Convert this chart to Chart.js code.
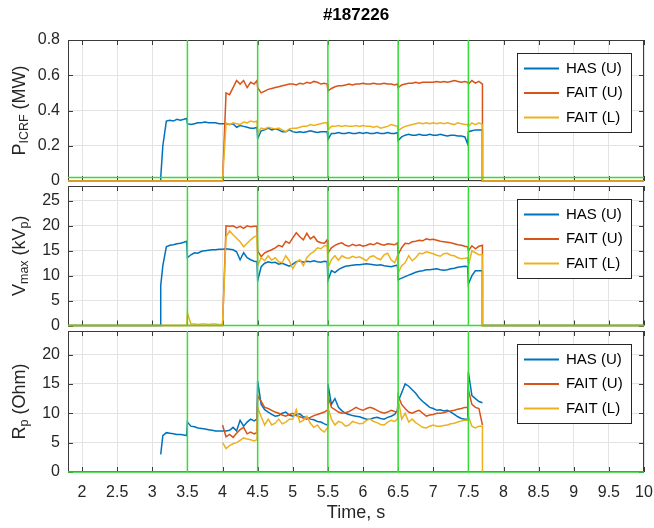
<!DOCTYPE html>
<html>
<head>
<meta charset="utf-8">
<script src="https://cdn.jsdelivr.net/npm/chart.js@4.4.1/dist/chart.umd.min.js"></script>
<style>
    body { margin: 0; background: #ffffff; }
    #wrap { position: relative; width: 654px; height: 528px; }
    #wrap canvas { position: absolute; left: 0; top: 0; }
</style>
</head>
<body>
<div id="wrap">
    <canvas id="powerChart" width="654" height="528"></canvas>
    <canvas id="voltageChart" width="654" height="528"></canvas>
    <canvas id="resistChart" width="654" height="528"></canvas>
</div>
<script>
const shotTitle = '#187226';
const seriesNames = ['HAS (U)', 'FAIT (U)', 'FAIT (L)'];
const markerTimes = [3.5, 4.5, 5.5, 6.5, 7.5];
const xTicks = [2, 2.5, 3, 3.5, 4, 4.5, 5, 5.5, 6, 6.5, 7, 7.5, 8, 8.5, 9, 9.5, 10];
const powerTicks = [0, 0.2, 0.4, 0.6, 0.8];
const voltageTicks = [0, 5, 10, 15, 20, 25];
const resistTicks = [0, 5, 10, 15, 20];

// time base shared by all traces (s)
const time = [
    1.8, 3.12, 3.12, 3.15, 3.2, 3.25, 3.3, 3.35, 3.4, 3.45, 3.49,
    3.5, 3.55, 3.6, 3.65, 3.7, 3.75, 3.8, 3.85, 3.9, 3.95, 4.0, 4.0,
    4.05, 4.1, 4.15, 4.2, 4.25, 4.3, 4.35, 4.4, 4.45, 4.49,
    4.5, 4.55, 4.6, 4.65, 4.7, 4.75, 4.8, 4.85, 4.9, 4.95,
    5.0, 5.05, 5.1, 5.15, 5.2, 5.25, 5.3, 5.35, 5.4, 5.45, 5.49,
    5.5, 5.55, 5.6, 5.65, 5.7, 5.75, 5.8, 5.85, 5.9, 5.95,
    6.0, 6.05, 6.1, 6.15, 6.2, 6.25, 6.3, 6.35, 6.4, 6.45, 6.49,
    6.5, 6.55, 6.6, 6.65, 6.7, 6.75, 6.8, 6.85, 6.9, 6.95,
    7.0, 7.05, 7.1, 7.15, 7.2, 7.25, 7.3, 7.35, 7.4, 7.45, 7.49,
    7.5, 7.55, 7.6, 7.65, 7.7, 7.7, 10
];

// P_ICRF (MW)
const pHas = [
    0, 0, 0.02, 0.2, 0.34, 0.345, 0.34, 0.35, 0.345, 0.35, 0.355,
    0.325, 0.32, 0.325, 0.33, 0.33, 0.335, 0.33, 0.33, 0.33, 0.325, 0.325, 0.325,
    0.325, 0.32, 0.325, 0.305, 0.315, 0.31, 0.305, 0.3, 0.3, 0.305,
    0.24, 0.285, 0.29, 0.3, 0.29, 0.295, 0.29, 0.28, 0.28, 0.29,
    0.28, 0.275, 0.28, 0.275, 0.28, 0.285, 0.28, 0.275, 0.28, 0.28, 0.28,
    0.235, 0.27, 0.27, 0.275, 0.27, 0.27, 0.275, 0.27, 0.27, 0.275,
    0.27, 0.275, 0.27, 0.27, 0.275, 0.27, 0.27, 0.275, 0.27, 0.27, 0.275,
    0.23, 0.25, 0.26, 0.265, 0.26, 0.26, 0.265, 0.26, 0.26, 0.265,
    0.26, 0.26, 0.265, 0.26, 0.255, 0.26, 0.26, 0.255, 0.255, 0.25, 0.21,
    0.28, 0.285, 0.29, 0.29, 0.29, 0, 0
];
const pFaitU = [
    0, 0, 0, 0, 0, 0, 0, 0, 0, 0, 0,
    0, 0, 0, 0, 0, 0, 0, 0, 0, 0, 0, 0,
    0.5, 0.49, 0.53, 0.57, 0.55, 0.57, 0.53, 0.56, 0.55, 0.57,
    0.53, 0.5, 0.51, 0.52, 0.525, 0.53, 0.535, 0.54, 0.545, 0.55,
    0.55, 0.545, 0.555, 0.55, 0.56, 0.555, 0.565, 0.56, 0.55, 0.555, 0.55,
    0.51, 0.525, 0.535, 0.54, 0.54, 0.545, 0.55, 0.545, 0.55, 0.55,
    0.555, 0.55, 0.55, 0.555, 0.55, 0.55, 0.555, 0.55, 0.55, 0.545, 0.55,
    0.53, 0.545, 0.55, 0.555, 0.555, 0.56, 0.555, 0.56, 0.56, 0.56,
    0.56, 0.565, 0.56, 0.565, 0.56, 0.565, 0.57, 0.565, 0.56, 0.565, 0.56,
    0.55, 0.57, 0.555, 0.565, 0.55, 0, 0
];
const pFaitL = [
    0, 0, 0, 0, 0, 0, 0, 0, 0, 0, 0,
    0, 0, 0, 0, 0, 0, 0, 0, 0, 0, 0, 0,
    0.33, 0.32, 0.33, 0.325, 0.32, 0.335, 0.33, 0.34, 0.335, 0.34,
    0.27, 0.3, 0.295, 0.305, 0.3, 0.295, 0.3, 0.29, 0.28, 0.295,
    0.3, 0.3, 0.305, 0.31, 0.31, 0.32, 0.315, 0.32, 0.325, 0.33, 0.33,
    0.29, 0.31, 0.31, 0.315, 0.31, 0.315, 0.31, 0.31, 0.315, 0.31,
    0.315, 0.31, 0.31, 0.305, 0.31, 0.3, 0.305, 0.31, 0.32, 0.315, 0.31,
    0.285, 0.3, 0.31, 0.315, 0.32, 0.325, 0.33, 0.325, 0.33, 0.325,
    0.33, 0.325, 0.33, 0.325, 0.33, 0.325, 0.32, 0.33, 0.325, 0.32, 0.32,
    0.31, 0.33, 0.32, 0.33, 0.32, 0, 0
];

// V_max (kVp)
const vHas = [
    0, 0, 8, 12, 15.8, 16.1, 16.2, 16.4, 16.5, 16.7, 16.9,
    13.6, 14.2, 14.6, 14.5, 14.9, 15, 15.1, 15.2, 15.2, 15.3, 15.3, 15.3,
    15.4, 15.3, 15.2, 14.8, 13.2, 14.6, 13.6, 13.2, 12.9, 12.8,
    9, 11.8, 12.5, 12.8, 12.6, 12.7, 12.3, 12.5, 12.2, 11.9,
    12.3, 12.8, 13, 12.7, 12.9, 12.8, 13, 12.8, 12.7, 12.9, 12.8,
    9, 11, 10.6, 11.2, 11.6, 11.9, 12, 12.1, 12.2, 12.2,
    12.3, 12.4, 12.3, 12.2, 12.1, 12.2, 12, 11.9, 11.8, 12, 12.1,
    9.2, 9.5, 9.8, 10.1, 10.4, 10.7, 10.9, 11, 11.2, 11.2,
    11.3, 11.4, 11.2, 11.1, 11.2, 11.4, 11.5, 11.7, 11.8, 11.9, 11.8,
    8.3, 10, 11, 11, 11, 0, 0
];
const vFaitU = [
    0, 0, 0, 0, 0, 0, 0, 0, 0, 0, 0,
    0, 0, 0, 0, 0, 0, 0, 0, 0, 0, 0, 0,
    20, 19.9, 20, 19.6, 19.9, 19.5, 20, 19.8, 19.9, 19.9,
    15, 13.8, 14.6, 14.9, 15.2, 15.6, 16.1, 15.8, 16.9, 16.5,
    17.6, 18.6, 17.8, 17.2, 18.5, 17.4, 17.9, 16.9, 16.6, 16.5, 17.2,
    14.5, 15.6, 16.1, 16.4, 16.6, 16.1, 15.9, 16.3, 16, 16.2,
    15.9, 16.1, 16.4, 16.2, 16.6, 16.3, 16.1, 16.4, 16.3, 16.2, 16.6,
    14.2, 15.6, 16.5, 16.4, 16.8, 16.9, 17.1, 17, 17.4, 17.2,
    17.3, 17.1, 16.9, 16.8, 16.7, 16.6, 16.4, 16.2, 16.1, 15.9, 15.8,
    15, 16, 15.4, 15.9, 16.1, 0, 0
];
const vFaitL = [
    0, 0, 0, 0, 0, 0, 0, 0, 0, 0, 0,
    2.5, 0.3, 0.3, 0.2, 0.3, 0.3, 0.2, 0.3, 0.3, 0.2, 0.2, 0.2,
    17.8, 19, 18.2, 17.5, 16.8, 15.8, 16.5, 17.2, 17.8, 18,
    12, 13.6, 13, 14, 13.1, 13.6, 12.8, 12.6, 14, 13,
    11.4, 12.6, 13.2, 12, 13.6, 14.4, 14.8, 15.6, 15.4, 16, 16,
    11.5, 13.2, 14, 13.1, 14, 13.6, 13.5, 13.9, 13.6, 13.8,
    13.4, 13, 13.8, 14, 13.5, 13.2, 14.2, 14.5, 13.2, 12.6, 14,
    10.5, 12, 12.6, 14, 13, 13.6, 14.5, 14.4, 14.8, 14.6,
    14.4, 14.1, 13.9, 14.4, 14.5, 14.1, 14, 13.6, 13.4, 13.5, 13.6,
    12, 15, 14.6, 14.2, 14.2, 0, 0
];

// R_p (Ohm)
const rHas = [
    null, null, 3, 6.2, 6.7, 6.6, 6.5, 6.4, 6.4, 6.3, 6.2,
    8.5, 7.8, 7.7, 7.5, 7.4, 7.3, 7.2, 7.1, 7, 7, 7, 7,
    7, 7.1, 7.6, 7, 8.8, 7.8, 8.5, 9, 8.7, 9,
    15.5, 11.5, 10.6, 10.2, 9.8, 9.5, 9.6, 10, 10.2, 9.7,
    9.5, 9.8, 9.9, 9.4, 9.3, 9, 8.9, 8.6, 8.5, 8.2, 8,
    15, 11.5, 12.5, 11, 10.4, 10, 9.8, 9.6, 9.5, 9.4,
    9.2, 9, 9, 9.2, 9.3, 9.1, 9, 9.3, 9.5, 9.8, 10.5,
    12, 13.5, 15, 14.6, 14, 13.4, 12.6, 12, 11.5, 11,
    10.8, 10.5, 10.6, 10.4, 10.5, 10.2, 9.8, 9.4, 9.1, 9, 9,
    17, 13, 12.5, 12, 11.8, null, null
];
const rFaitU = [
    null, null, null, null, null, null, null, null, null, null, null,
    null, null, null, null, null, null, null, null, null, null, null, 8,
    6, 6.4, 5.9, 6.6, 7.2, 7.6, 6.5, 6.8, 6.5, 6.7,
    13, 12, 11, 10.8, 10.5, 10.2, 10, 9.7, 9.5, 9.8,
    10, 9.6, 9.4, 9.2, 9, 9.3, 9.6, 9.8, 10, 10.2, 10.5,
    13, 11, 10.6, 10.2, 10, 10.1, 10.3, 10.6, 11, 10.7,
    10.5, 10.8, 11, 10.8, 10.5, 10.2, 10, 10.2, 10.5, 10.3, 10.2,
    13, 11.5, 10.8, 10.2, 10, 10.3, 10.5, 10, 9.5, 9.7,
    9.8, 10, 10, 10.1, 10.3, 10.4, 10.5, 10.7, 10.8, 11, 11,
    14, 11.5, 11, 10.8, 8, null, null
];
const rFaitL = [
    null, null, null, null, null, null, null, null, null, null, null,
    null, null, null, null, null, null, null, null, null, null, null, 5,
    4, 4.5, 4.8, 5, 5.4, 5.8, 5.6, 5.5, 5.3, 5.5,
    11, 9.4, 8, 9, 8, 8.3, 9, 8.2, 8.5, 9,
    9, 10.6, 8.5, 8.8, 9.5, 8.3, 7.6, 8, 7.2, 6.8, 7.5,
    11, 9, 8, 8.6, 8.4, 7.8, 8, 8.6, 8.4, 8.2,
    8.3, 8.8, 9, 8.6, 8.4, 8.1, 8, 8.5, 8.8, 8.6, 9,
    12.5, 9, 10, 8.5, 9, 8.4, 8, 7.6, 7.5, 7.8,
    8, 7.8, 7.8, 7.9, 8, 8.2, 8.3, 8.5, 8.7, 8.8, 8.8,
    9.5, 7.8, 7.5, 7.8, 7.8, 0, null
];

const lineColors = ['#0072BD', '#D95319', '#EDB120'];
const markerColor = '#36dd36';
const FONT = '"Liberation Sans", Arial, Helvetica, sans-serif';
const TEXT = '#262626';

// drawn panel by panel, all canvases overlap the full figure
const panels = [
    { id: 'powerChart', series: [pHas, pFaitU, pFaitL], yMax: 0.8, yTicks: powerTicks, markerBase: 0.02,
      yTitle: [['P', false], ['ICRF', true], [' (MW)', false]], pad: { top: 40, bottom: 347 }, xHeight: 0, bottomAxis: false, title: true },
    { id: 'voltageChart', series: [vHas, vFaitU, vFaitL], yMax: 28, yTicks: voltageTicks, markerBase: 0,
      yTitle: [['V', false], ['max', true], [' (kV', false], ['p', true], [')', false]], pad: { top: 186, bottom: 202.5 }, xHeight: 0, bottomAxis: false },
    { id: 'resistChart', series: [rHas, rFaitU, rFaitL], yMax: 24, yTicks: resistTicks, markerBase: 0,
      yTitle: [['R', false], ['p', true], [' (Ohm)', false]], pad: { top: 331, bottom: 0 }, xHeight: 56, bottomAxis: true }
];

function toPoints(values) {
    return time.map((t, i) => ({ x: t, y: values[i] }));
}

function markerPoints(base, top) {
    const pts = [{ x: 1.8, y: base }];
    markerTimes.forEach(t => {
        pts.push({ x: t, y: base }, { x: t, y: top }, { x: t, y: base });
    });
    pts.push({ x: 10, y: base });
    return pts;
}

const frameTicks = {
    id: 'frameTicks',
    beforeDatasetsDraw(chart, args, opts) {
        const { ctx, chartArea: a, scales } = chart;
        ctx.save();
        ctx.strokeStyle = '#3a3a3a';
        ctx.lineWidth = 1;
        ctx.beginPath();
        xTicks.forEach(v => {
            const px = Math.round(scales.x.getPixelForValue(v)) + 0.5;
            ctx.moveTo(px, a.bottom); ctx.lineTo(px, a.bottom - 5);
            ctx.moveTo(px, a.top); ctx.lineTo(px, a.top + 5);
        });
        opts.yTicks.forEach(v => {
            const py = Math.round(scales.y.getPixelForValue(v)) + 0.5;
            ctx.moveTo(a.left, py); ctx.lineTo(a.left + 5, py);
            ctx.moveTo(a.right, py); ctx.lineTo(a.right - 5, py);
        });
        ctx.stroke();
        ctx.strokeRect(Math.round(a.left) + 0.5, Math.round(a.top) + 0.5,
            Math.round(a.width) - 1, Math.round(a.height) - 1);
        ctx.restore();
    }
};

const boxLegend = {
    id: 'boxLegend',
    afterDraw(chart) {
        const { ctx, chartArea: a } = chart;
        const items = chart.data.datasets.filter(d => d.label);
        const w = 114, h = 79;
        const left = Math.round(a.right - 13 - w), top = Math.round(a.top + 13);
        ctx.save();
        ctx.fillStyle = '#ffffff';
        ctx.fillRect(left, top, w, h);
        ctx.strokeStyle = '#262626';
        ctx.lineWidth = 1;
        ctx.strokeRect(left + 0.5, top + 0.5, w, h);
        ctx.font = '15px ' + FONT;
        ctx.textBaseline = 'middle';
        items.forEach((d, i) => {
            const cy = top + 15.5 + i * 24.5;
            ctx.strokeStyle = d.borderColor;
            ctx.lineWidth = 2;
            ctx.beginPath();
            ctx.moveTo(left + 7, cy);
            ctx.lineTo(left + 42, cy);
            ctx.stroke();
            ctx.fillStyle = '#000000';
            ctx.fillText(d.label, left + 49, cy);
        });
        ctx.restore();
    }
};

const panelTexts = {
    id: 'panelTexts',
    afterDraw(chart, args, opts) {
        const { ctx, chartArea: a } = chart;
        ctx.save();
        ctx.fillStyle = TEXT;
        ctx.textBaseline = 'alphabetic';
        // rotated y title with subscripts
        let total = 0;
        opts.yTitle.forEach(([txt, sub]) => {
            ctx.font = (sub ? '12.5px ' : '18px ') + FONT;
            total += ctx.measureText(txt).width;
        });
        ctx.translate(24.5, (a.top + a.bottom) / 2);
        ctx.rotate(-Math.PI / 2);
        let pos = -total / 2;
        opts.yTitle.forEach(([txt, sub]) => {
            ctx.font = (sub ? '12.5px ' : '18px ') + FONT;
            ctx.fillText(txt, pos, sub ? 3.5 : 0);
            pos += ctx.measureText(txt).width;
        });
        ctx.restore();
        if (opts.title) {
            ctx.save();
            ctx.fillStyle = '#000000';
            ctx.font = 'bold 17px ' + FONT;
            ctx.textAlign = 'center';
            ctx.textBaseline = 'middle';
            ctx.fillText(shotTitle, (a.left + a.right) / 2, 15);
            ctx.restore();
        }
    }
};

function makePanel(cfg) {
    const datasets = [{
        data: markerPoints(cfg.markerBase, cfg.yMax),
        borderColor: markerColor,
        borderWidth: 1.5,
        order: 0
    }];
    cfg.series.forEach((values, i) => {
        datasets.push({
            label: seriesNames[i],
            data: toPoints(values),
            borderColor: lineColors[i],
            borderWidth: 1.5,
            order: 3 - i
        });
    });

    return new Chart(document.getElementById(cfg.id), {
        type: 'line',
        data: { datasets: datasets },
        plugins: [frameTicks, boxLegend, panelTexts],
        options: {
            responsive: false,
            animation: false,
            events: [],
            layout: { autoPadding: false, padding: { top: cfg.pad.top, bottom: cfg.pad.bottom, left: 0, right: 10 } },
            elements: { point: { radius: 0 }, line: { tension: 0 } },
            datasets: { line: { clip: 3, spanGaps: false } },
            scales: {
                x: {
                    type: 'linear',
                    min: 1.8,
                    max: 10,
                    afterBuildTicks: axis => { axis.ticks = xTicks.map(v => ({ value: v })); },
                    afterFit: axis => {
                        axis.height = cfg.xHeight;
                        axis.paddingLeft = 0;
                        axis.paddingRight = 0;
                    },
                    grid: { color: '#e3e3e3', drawTicks: false },
                    border: { display: false },
                    ticks: {
                        display: cfg.bottomAxis,
                        padding: 11,
                        color: TEXT,
                        font: { family: FONT, size: 16 },
                        maxRotation: 0,
                        callback: v => String(v)
                    },
                    title: {
                        display: cfg.bottomAxis,
                        text: 'Time, s',
                        color: TEXT,
                        font: { family: FONT, size: 18 },
                        padding: { top: 0, bottom: 4 }
                    }
                },
                y: {
                    min: 0,
                    max: cfg.yMax,
                    afterBuildTicks: axis => { axis.ticks = cfg.yTicks.map(v => ({ value: v })); },
                    afterFit: axis => {
                        axis.width = 68;
                        axis.paddingTop = 0;
                        axis.paddingBottom = 0;
                    },
                    grid: { color: '#e3e3e3', drawTicks: false },
                    border: { display: false },
                    ticks: {
                        padding: 8,
                        color: TEXT,
                        font: { family: FONT, size: 16 },
                        callback: v => String(Math.round(v * 10) / 10)
                    }
                }
            },
            plugins: {
                legend: { display: false },
                tooltip: { enabled: false },
                frameTicks: { yTicks: cfg.yTicks },
                panelTexts: { yTitle: cfg.yTitle, title: !!cfg.title }
            }
        }
    });
}

panels.forEach(makePanel);
</script>
</body>
</html>
